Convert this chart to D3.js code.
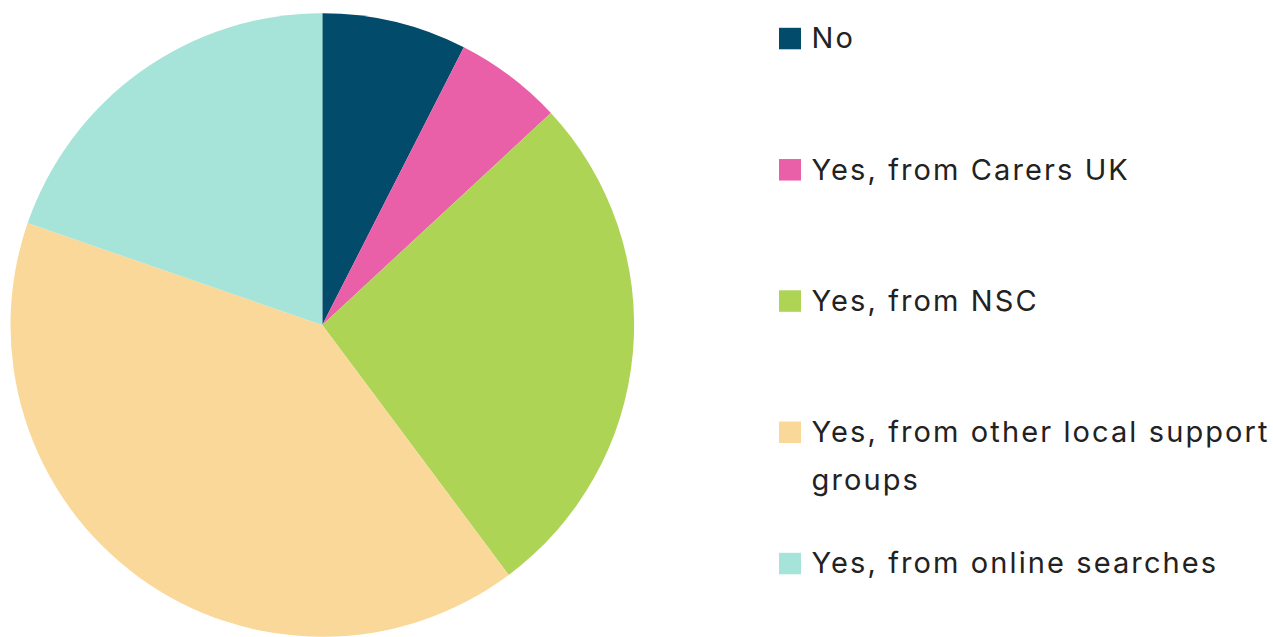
<!DOCTYPE html>
<html>
<head>
<meta charset="utf-8">
<script src="https://cdn.jsdelivr.net/npm/d3@7"></script>
<style>
  html, body { margin: 0; padding: 0; background: #ffffff; }
  svg { display: block; }
  .legend text { font-family: "Inter", "Noto Sans", sans-serif; fill: #222222; letter-spacing: 2.1px; }
</style>
</head>
<body>
<svg id="chart" width="1273" height="637"></svg>
<script>
// Survey responses, share of respondents (%)
const categories = [
  "No",
  "Yes, from Carers UK",
  "Yes, from NSC",
  "Yes, from other local support groups",
  "Yes, from online searches"
];
const shares = [7.5, 5.6, 26.7, 40.5, 19.7];
const colours = ["#024b6a", "#e95fa8", "#add455", "#fad899", "#a6e3d8"];

const svg = d3.select("#chart");
const width = 1273, height = 637;

// Pie
const cx = 322.3, cy = 325, radius = 311.8;
const data = categories.map((c, i) => ({ category: c, value: shares[i] }));

const pie = d3.pie().value(d => d.value).sort(null);
const arc = d3.arc().innerRadius(0).outerRadius(radius);
const colour = d3.scaleOrdinal().domain(categories).range(colours);

svg.append("g")
  .attr("transform", `translate(${cx},${cy})`)
  .selectAll("path")
  .data(pie(data))
  .join("path")
  .attr("d", arc)
  .attr("fill", d => colour(d.data.category));

// Legend
const legendX = 779, firstBaseline = 48.3, rowStep = 131.25;
const fontSize = 29, lineHeight = 48, maxTextWidth = 472;

const legend = svg.append("g").attr("class", "legend");
const rows = legend.selectAll("g")
  .data(categories)
  .join("g")
  .attr("transform", (d, i) => `translate(${legendX},${firstBaseline + i * rowStep})`);

rows.append("rect")
  .attr("x", 0)
  .attr("y", -20.5)
  .attr("width", 22)
  .attr("height", 21.5)
  .attr("fill", d => colour(d));

rows.append("text")
  .attr("x", 32.5)
  .attr("y", 0)
  .style("font-size", fontSize + "px")
  .each(function (d) {
    const text = d3.select(this);
    const words = d.split(" ");
    let line = [];
    let tspan = text.append("tspan").attr("x", 32.5).attr("dy", 0);
    words.forEach(w => {
      line.push(w);
      tspan.text(line.join(" "));
      if (tspan.node().getComputedTextLength() > maxTextWidth && line.length > 1) {
        line.pop();
        tspan.text(line.join(" "));
        line = [w];
        tspan = text.append("tspan").attr("x", 32.5).attr("dy", lineHeight).text(w);
      }
    });
  });
</script>
</body>
</html>
